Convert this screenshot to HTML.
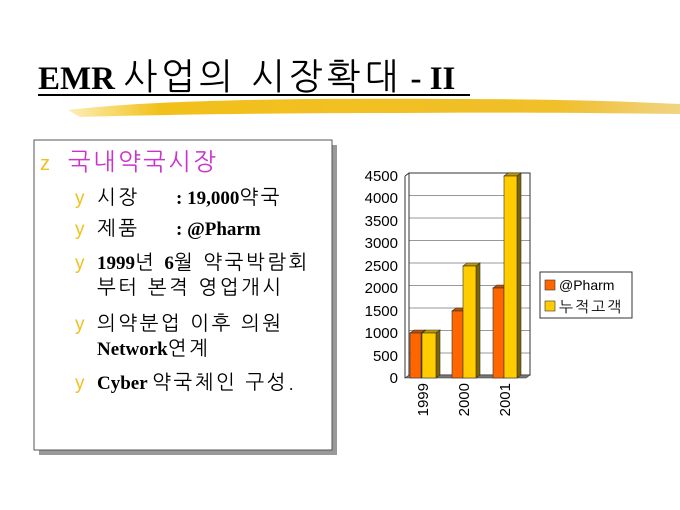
<!DOCTYPE html>
<html><head><meta charset="utf-8"><style>
body{margin:0;background:#fff;}
svg{display:block}
.k{font-family:NanumGothic, sans-serif;font-weight:normal;letter-spacing:2.5px;font-size:20px}
</style></head><body>
<svg width="680" height="510" xmlns="http://www.w3.org/2000/svg" font-family="Liberation Sans, NanumGothic, sans-serif">
<defs>
<linearGradient id="br" x1="0" y1="0" x2="1" y2="0">
<stop offset="0" stop-color="#f5c518" stop-opacity="0.3"/>
<stop offset="0.15" stop-color="#f2c01a"/>
<stop offset="0.8" stop-color="#f0bf2a"/>
<stop offset="1" stop-color="#e8b830" stop-opacity="0.6"/>
</linearGradient>
</defs>
<text x="38" y="89" font-family="Liberation Serif, NanumGothic, serif" font-size="33" font-weight="bold" fill="#000">EMR <tspan font-family="NanumGothic, sans-serif" font-weight="normal" font-size="36" letter-spacing="4">사업의 시장확대</tspan> - II</text>
<rect x="38" y="94" width="432" height="2" fill="#000"/>
<path d="M68 110 C150 100,300 98,450 99 C560 99,640 102,680 104 L680 114 C600 113,500 112,400 113 C260 113,150 115,80 117 Z" fill="url(#br)"/>
<rect x="39" y="145" width="298" height="310" fill="#999"/>
<rect x="34" y="140" width="298" height="310" fill="#fff" stroke="#555" stroke-width="1"/>
<text x="40" y="170" font-size="20" fill="#f0c020">z</text>
<text x="68" y="170" font-size="24" fill="#cc33cc" font-family="NanumGothic, sans-serif" letter-spacing="2.5">국내약국시장</text>
<g font-size="19" fill="#000">
<text x="75" y="204" fill="#f0c020">y</text>
<text x="97" y="204" class="k">시장</text>
<text x="176" y="204" font-family="Liberation Serif, NanumGothic, serif" font-weight="bold">: 19,000<tspan class="k">약국</tspan></text>
<text x="75" y="235" fill="#f0c020">y</text>
<text x="97" y="235" class="k">제품</text>
<text x="176" y="235" font-family="Liberation Serif, serif" font-weight="bold">: @Pharm</text>
<text x="75" y="269" fill="#f0c020">y</text>
<text x="97" y="269" font-family="Liberation Serif, NanumGothic, serif" font-weight="bold">1999<tspan class="k">년 </tspan>6<tspan class="k">월 약국박람회</tspan></text>
<text x="97" y="294" class="k">부터 본격 영업개시</text>
<text x="75" y="330" fill="#f0c020">y</text>
<text x="97" y="330" class="k">의약분업 이후 의원</text>
<text x="97" y="355" font-family="Liberation Serif, NanumGothic, serif" font-weight="bold">Network<tspan class="k">연계</tspan></text>
<text x="75" y="389" fill="#f0c020">y</text>
<text x="97" y="389" font-family="Liberation Serif, NanumGothic, serif" font-weight="bold">Cyber <tspan class="k">약국체인 구성.</tspan></text>
</g>
<g stroke="#999" stroke-width="1">
<line x1="409" y1="195.5" x2="530" y2="195.5"/><line x1="409" y1="218" x2="530" y2="218"/>
<line x1="409" y1="240.5" x2="530" y2="240.5"/><line x1="409" y1="263" x2="530" y2="263"/>
<line x1="409" y1="285.5" x2="530" y2="285.5"/><line x1="409" y1="308" x2="530" y2="308"/>
<line x1="409" y1="330.5" x2="530" y2="330.5"/><line x1="409" y1="353" x2="530" y2="353"/>
</g>
<rect x="409" y="173" width="121" height="202" fill="none" stroke="#333"/>
<line x1="405" y1="176" x2="405" y2="378" stroke="#333"/>
<line x1="405" y1="176" x2="409" y2="173" stroke="#333"/>
<polygon points="405,378 526,378 530,375 409,375" fill="#777" stroke="#333" stroke-width="0.6"/>
<g stroke="#333" stroke-width="0.6">
<polygon points="421,333 425,330 425,375 421,378" fill="#8a4a00"/><polygon points="410,333 414,330 425,330 421,333" fill="#c05000"/><rect x="410" y="333" width="11" height="45" fill="#ff6600"/>
<polygon points="436,333 440,330 440,375 436,378" fill="#7a6500"/><polygon points="422,333 426,330 440,330 436,333" fill="#c09a00"/><rect x="422" y="333" width="14" height="45" fill="#ffcc00"/>
<polygon points="463,311 467,308 467,375 463,378" fill="#8a4a00"/><polygon points="452,311 456,308 467,308 463,311" fill="#c05000"/><rect x="452" y="311" width="11" height="67" fill="#ff6600"/>
<polygon points="476,266 480,263 480,375 476,378" fill="#7a6500"/><polygon points="463,266 467,263 480,263 476,266" fill="#c09a00"/><rect x="463" y="266" width="13" height="112" fill="#ffcc00"/>
<polygon points="504,288 508,285 508,375 504,378" fill="#8a4a00"/><polygon points="493,288 497,285 508,285 504,288" fill="#c05000"/><rect x="493" y="288" width="11" height="90" fill="#ff6600"/>
<polygon points="517,176 521,173 521,375 517,378" fill="#7a6500"/><polygon points="504,176 508,173 521,173 517,176" fill="#c09a00"/><rect x="504" y="176" width="13" height="202" fill="#ffcc00"/>
</g>
<g font-size="15" fill="#000" text-anchor="end">
<text x="398" y="181">4500</text><text x="398" y="203">4000</text><text x="398" y="226">3500</text>
<text x="398" y="248">3000</text><text x="398" y="271">2500</text><text x="398" y="293">2000</text>
<text x="398" y="316">1500</text><text x="398" y="338">1000</text><text x="398" y="361">500</text>
<text x="398" y="383">0</text>
</g>
<g font-size="15" fill="#000" text-anchor="end">
<text transform="translate(428,383) rotate(-90)">1999</text>
<text transform="translate(469,383) rotate(-90)">2000</text>
<text transform="translate(510,383) rotate(-90)">2001</text>
</g>
<rect x="540" y="272" width="92" height="46" fill="#fff" stroke="#333"/>
<rect x="545" y="280" width="10" height="10" fill="#ff6600" stroke="#333" stroke-width="0.6"/>
<text x="559" y="290" font-size="14">@Pharm</text>
<rect x="545" y="301" width="10" height="10" fill="#ffcc00" stroke="#333" stroke-width="0.6"/>
<text x="559" y="312" font-size="15" font-family="NanumGothic, sans-serif" letter-spacing="2">누적고객</text>
</svg>
</body></html>
